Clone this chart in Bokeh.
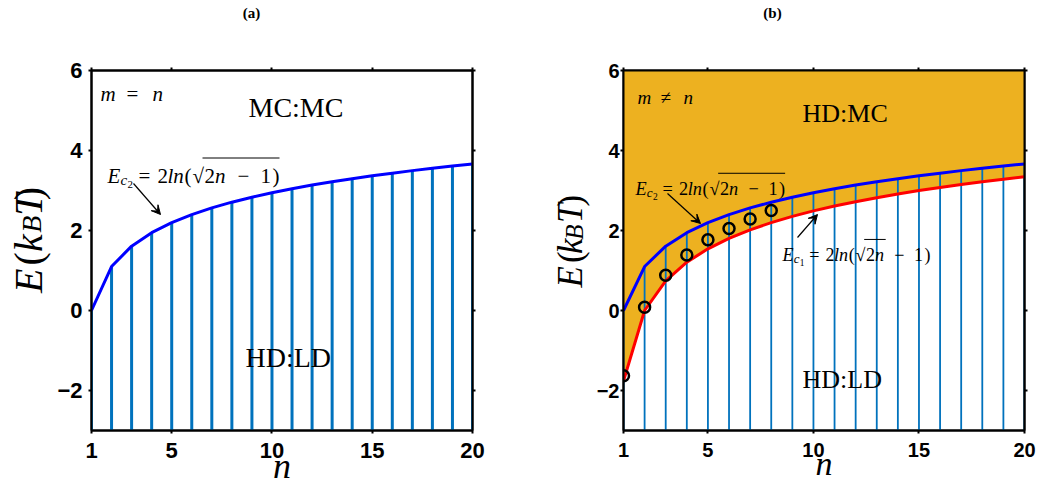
from bokeh.plotting import figure
from bokeh.models import Label, Arrow, VeeHead, FixedTicker, Range1d, LinearAxis
from bokeh.layouts import row, column
from bokeh.embed import file_html
from bokeh.resources import INLINE
import math

# ---------------- data ----------------
n_vals = [1, 2, 3, 4, 5, 6, 7, 8, 9, 10, 11, 12, 13, 14, 15, 16, 17, 18, 19, 20]
ec2_vals = [0.000, 1.099, 1.609, 1.946, 2.197, 2.398, 2.565, 2.708, 2.833, 2.944,
            3.045, 3.135, 3.219, 3.296, 3.367, 3.434, 3.497, 3.555, 3.611, 3.664]
ec1_vals = [-1.763, 0.000, 0.743, 1.207, 1.542, 1.803, 2.017, 2.197, 2.353, 2.490,
            2.612, 2.721, 2.821, 2.913, 2.998, 3.077, 3.150, 3.219, 3.284, 3.345]
sim_n = [1, 2, 3, 4, 5, 6, 7, 8]
sim_e = [-1.63, 0.08, 0.88, 1.39, 1.77, 2.05, 2.29, 2.50]
x_ticks = [1, 5, 10, 15, 20]
y_ticks = [-2, 0, 2, 4, 6]
X_MIN, X_MAX = 1, 20
Y_MIN, Y_MAX = -3, 6

BLUE_STEM = "#0072BD"
ORANGE = "#EDB120"
SERIF = "Liberation Serif"
SANS = "Liberation Sans"

TOP = 30  # height of the title strip

def mk_conv(frame_left, frame_w):
    fx = lambda px: X_MIN + (px - frame_left) * (X_MAX - X_MIN) / frame_w
    fy = lambda py: Y_MAX - (py - 70) * (Y_MAX - Y_MIN) / 360.0
    return fx, fy

ident = (lambda px: px, lambda py: py)

def lab(p, conv, px, py, text, size, style="normal", align="left",
        baseline="alphabetic", angle=0.0, font=SERIF):
    fx, fy = conv
    p.add_layout(Label(x=fx(px), y=fy(py), text=text, text_font=font,
                       text_font_size=f"{size}px", text_font_style=style,
                       text_align=align, text_baseline=baseline, angle=angle,
                       text_color="black"))

def arrow(p, conv, x0, y0, x1, y1, head=True, width=1.2):
    fx, fy = conv
    end = VeeHead(size=9, fill_color="black", line_color="black", line_width=1) if head else None
    p.add_layout(Arrow(end=end, x_start=fx(x0), y_start=fy(y0), x_end=fx(x1), y_end=fy(y1),
                       line_color="black", line_width=width))

def strip(width, height, x0, y0):
    s = figure(width=width, height=height, x_range=Range1d(x0, x0 + width),
               y_range=Range1d(y0 + height, y0), x_axis_location=None, y_axis_location=None,
               output_backend="svg", toolbar_location=None,
               min_border=0, min_border_left=0, min_border_right=0,
               min_border_top=0, min_border_bottom=0)
    s.outline_line_color = None
    s.grid.visible = False
    s.background_fill_color = "white"
    s.border_fill_color = "white"
    return s

def base_axis(ax, tick_size):
    ax.axis_line_width = 2
    ax.axis_line_color = "black"
    ax.major_tick_line_width = 2
    ax.major_tick_out = 3
    ax.major_tick_in = 0
    ax.minor_tick_out = 0
    ax.minor_tick_in = 0
    ax.major_label_text_font = SANS
    ax.major_label_text_font_style = "bold"
    ax.major_label_text_font_size = f"{tick_size}px"
    ax.major_label_text_color = "black"

def style(p, tick_size, standoff, xlab_size, xlab_standoff):
    p.xgrid.visible = False
    p.ygrid.visible = False
    p.outline_line_color = "black"
    p.outline_line_width = 2
    p.outline_line_alpha = 1
    p.xaxis.ticker = FixedTicker(ticks=x_ticks)
    p.yaxis.ticker = FixedTicker(ticks=y_ticks)
    for ax in (p.xaxis, p.yaxis):
        base_axis(ax, tick_size)
    p.xaxis.major_label_standoff = 9
    p.yaxis.major_label_standoff = standoff
    p.xaxis.axis_label = "n"
    p.xaxis.axis_label_text_font = SERIF
    p.xaxis.axis_label_text_font_style = "italic"
    p.xaxis.axis_label_text_font_size = f"{xlab_size}px"
    p.xaxis.axis_label_text_color = "black"
    p.xaxis.axis_label_standoff = xlab_standoff
    # box ticks on top and right, no labels
    for place, ticks in (("above", x_ticks), ("right", y_ticks)):
        ax = LinearAxis(ticker=FixedTicker(ticks=ticks))
        base_axis(ax, 1)
        ax.major_label_text_font_size = "0px"
        ax.major_label_standoff = 0
        ax.major_label_text_alpha = 0
        p.add_layout(ax, place)
    p.background_fill_color = "white"
    p.border_fill_color = "white"

# equation layout: (text, x offset from E, style, size factor, baseline shift factor)
EQ_PARTS = [("E", 0, "italic", 1.0, 0.0),
            ("c", 13, "italic", 0.72, 0.22),
            ("=", 31, "normal", 1.0, 0.0),
            ("2", 50, "normal", 1.0, 0.0),
            ("ln", 60, "italic", 1.0, 0.0),
            ("(", 77, "normal", 1.0, 0.0),
            ("\u221a", 85, "normal", 1.0, 0.0),
            ("2", 97, "normal", 1.0, 0.0),
            ("n", 107.5, "italic", 1.0, 0.0),
            ("\u2212", 130, "normal", 1.0, 0.0),
            ("1", 153, "normal", 1.0, 0.0),
            (")", 165, "normal", 1.0, 0.0)]

def equation(p, conv, x0, base, scale, sub, bar_end):
    size = 21 * scale
    for t, dx, st, sf, dy in EQ_PARTS:
        lab(p, conv, x0 + dx * scale, base + dy * size, t, size * sf, style=st)
    lab(p, conv, x0 + 20 * scale, base + 0.42 * size, sub, size * 0.52)
    arrow(p, conv, x0 + 95 * scale, base - 17.5 * scale, x0 + bar_end * scale, base - 17.5 * scale,
          head=False, width=1)

def ylabel(s, xc, xc_sub, centers, size, subsize):
    parts = [("E", "italic"), ("(", "normal"), ("k", "italic"),
             ("B", "italic"), ("T", "italic"), (")", "normal")]
    for (t, st), c in zip(parts, centers):
        if t == "B":
            lab(s, ident, xc_sub, c, t, subsize, style=st, align="center",
                baseline="middle", angle=math.pi / 2)
        else:
            lab(s, ident, xc, c, t, size, style=st, align="center",
                baseline="middle", angle=math.pi / 2)

# ---------------- title strip ----------------
top = strip(1041, TOP, 0, 0)
lab(top, ident, 251, 12, "(a)", 15, style="bold", align="center", baseline="middle")
lab(top, ident, 772, 12, "(b)", 15, style="bold", align="center", baseline="middle")

MAIN_H = 489 - TOP

# ---------------- panel (a) ----------------
YA_W = 53
ya = strip(YA_W, MAIN_H, 0, TOP)
ylabel(ya, 28, 31, [298, 270, 250, 226, 201, 187], 40, 28)

ca = mk_conv(91, 381)
pa = figure(width=520 - YA_W, height=MAIN_H, x_range=Range1d(X_MIN, X_MAX), y_range=Range1d(Y_MIN, Y_MAX),
            output_backend="svg", toolbar_location=None,
            min_border_left=91 - YA_W, min_border_right=48, min_border_top=70 - TOP, min_border_bottom=59)
style(pa, 22, 6, 36, -15)
pa.segment(x0=n_vals, y0=[Y_MIN] * len(n_vals), x1=n_vals, y1=ec2_vals,
           line_color=BLUE_STEM, line_width=3)
pa.line(n_vals, ec2_vals, line_color="#0000FF", line_width=3)

lab(pa, ca, 100, 93, "m", 21, style="italic")
lab(pa, ca, 126, 93, "=", 21)
lab(pa, ca, 152, 93, "n", 21, style="italic")
lab(pa, ca, 248, 107, "MC:MC", 28)
lab(pa, ca, 245, 357, "HD:LD", 28)
equation(pa, ca, 107, 175, 1.0, "2", 172)
arrow(pa, ca, 133, 183, 160, 214)

# ---------------- panel (b) ----------------
YB_W = 72
yb = strip(YB_W, MAIN_H, 520, TOP)
ylabel(yb, 570, 574, [293, 268, 254, 236, 212, 196], 35, 25)

cb = mk_conv(623, 401)
pb = figure(width=521 - YB_W, height=MAIN_H, x_range=Range1d(X_MIN, X_MAX), y_range=Range1d(Y_MIN, Y_MAX),
            output_backend="svg", toolbar_location=None,
            min_border_left=623 - 520 - YB_W, min_border_right=17, min_border_top=70 - TOP,
            min_border_bottom=59)
style(pb, 20, 1, 34, -15)
pb.varea(x=n_vals, y1=ec1_vals, y2=[Y_MAX] * len(n_vals), fill_color=ORANGE, fill_alpha=1)
pb.segment(x0=n_vals, y0=[Y_MIN] * len(n_vals), x1=n_vals, y1=ec2_vals,
           line_color=BLUE_STEM, line_width=1.8)
pb.line(n_vals, ec2_vals, line_color="#0000FF", line_width=3)
pb.line(n_vals, ec1_vals, line_color="#FF0000", line_width=3)
pb.scatter(sim_n, sim_e, marker="circle", size=11, fill_color=None, line_color="black", line_width=2.5)

lab(pb, cb, 637, 97, "m", 19, style="italic")
lab(pb, cb, 660, 97, "\u2260", 19)
lab(pb, cb, 683, 97, "n", 19, style="italic")
lab(pb, cb, 802, 113, "HD:MC", 26)
lab(pb, cb, 802, 379, "HD:LD", 26)
equation(pb, cb, 635, 188, 0.87, "2", 172)
arrow(pb, cb, 667, 193, 700, 223)
equation(pb, cb, 782, 254, 0.86, "1", 120)
arrow(pb, cb, 797, 237, 817, 214)

layout = column(top, row(ya, pa, yb, pb))
open("out.html", "w").write(file_html(layout, INLINE))
